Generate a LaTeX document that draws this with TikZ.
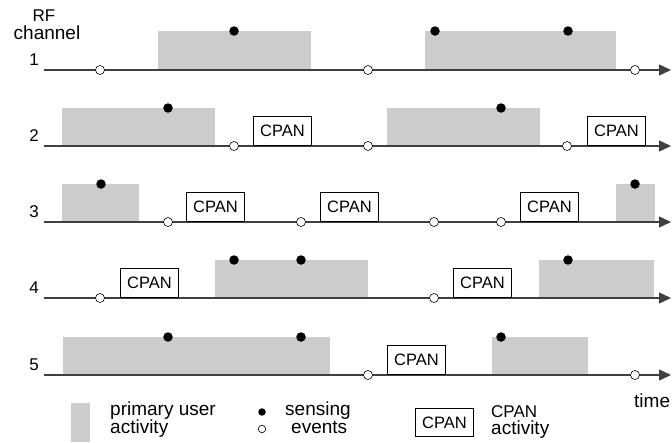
\documentclass[tikz,border=0pt]{standalone}
\usepackage{fontspec}
\setmainfont{Liberation Sans}
\usetikzlibrary{arrows.meta}
\begin{document}
\begin{tikzpicture}[x=1pt,y=-1pt,
  pu/.style={fill=black!20,draw=none},
  sense/.style={circle,fill=black,draw=none,inner sep=0pt,minimum size=9.5pt},
  ev/.style={circle,draw=black,fill=white,line width=0.6pt,inner sep=0pt,minimum size=9pt},
  cpan/.style={draw=black,fill=white,line width=1pt,inner sep=0pt,minimum width=58pt,minimum height=29pt,anchor=south west,font=\fontsize{16.5}{19}\selectfont},
  axis/.style={draw=black!75,line width=1.4pt,-{Triangle[length=12pt,width=11pt]}},
  lbl/.style={font=\fontsize{19}{20}\selectfont,inner sep=0pt},
  ulbl/.style={font=\fontsize{17}{20}\selectfont,inner sep=0pt}]
\useasboundingbox (0,0) rectangle (672,442);
% primary user activity
\fill[pu] (158,31) rectangle (311,70);
\fill[pu] (425,31) rectangle (616,70);
\fill[pu] (62,108) rectangle (215,146);
\fill[pu] (387,108) rectangle (540,146);
\fill[pu] (62,184) rectangle (139,222);
\fill[pu] (616,184) rectangle (655,222);
\fill[pu] (215,260) rectangle (368,298);
\fill[pu] (539,260) rectangle (654,298);
\fill[pu] (63,337) rectangle (330,375);
\fill[pu] (492,337) rectangle (588,375);
% axes
\foreach \i/\y in {1/70,2/146,3/222,4/298,5/375}{
  \coordinate (s\i) at (44,\y);
  \coordinate (e\i) at (671,\y);
  \draw[axis] (s\i) -- (e\i);
  \node[ulbl,anchor=base east] (n\i) at (39,\y-5) {\i};
}
% CPAN boxes
\foreach \n/\x/\y in {c2a/253/146,c2b/587/146,c3a/186/222,c3b/320/222,c3c/520/222,c4a/120/298,c4b/453/298,c5a/387/375}{
  \node[cpan] (\n) at (\x,\y) {CPAN};
}
% events
\foreach \n/\x/\y in {e1a/100/70,e1b/368/70,e1c/635/70,
  e2a/234/146,e2b/368/146,e2c/567/146,
  e3a/168/222,e3b/301/222,e3c/434/222,e3d/501/222,
  e4a/100/298,e4b/434/298,
  e5a/368/375,e5b/635/375}{
  \node[ev] (\n) at (\x,\y) {};
}
% sensing
\foreach \n/\x/\y in {d1a/234/31,d1b/435/31,d1c/568/31,
  d2a/168/108,d2b/501/108,
  d3a/101/184,d3b/635/184,
  d4a/234/260,d4b/301/260,d4c/568/260,
  d5a/168/337,d5b/301/337,d5c/501/337}{
  \node[sense] (\n) at (\x,\y) {};
}
% titles
\node[ulbl,anchor=base] (rf) at (44,21) {RF};
\node[lbl,anchor=base] (ch) at (47,39) {channel};
\node[lbl,anchor=base west] (time) at (634,407) {time};
% legend
\fill[pu] (71,403) rectangle (90,442);
\node[lbl,anchor=base west] (lp1) at (110,415) {primary user};
\node[lbl,anchor=base west] (lp2) at (110,433) {activity};
\node[circle,fill=black,inner sep=0pt,minimum size=7.5pt] (ls) at (262,412) {};
\node[circle,draw=black,fill=white,line width=0.6pt,inner sep=0pt,minimum size=7.5pt] (le) at (262,429) {};
\node[lbl,anchor=base west] (ls1) at (285,415) {sensing};
\node[lbl,anchor=base west] (ls2) at (291,433) {events};
\node[cpan,anchor=north west,minimum width=58pt,minimum height=28pt] (lc) at (415,408) {CPAN};
\node[ulbl,anchor=base west] (lc1) at (491,417) {CPAN};
\node[lbl,anchor=base west] (lc2) at (491,434) {activity};
\end{tikzpicture}
\end{document}
